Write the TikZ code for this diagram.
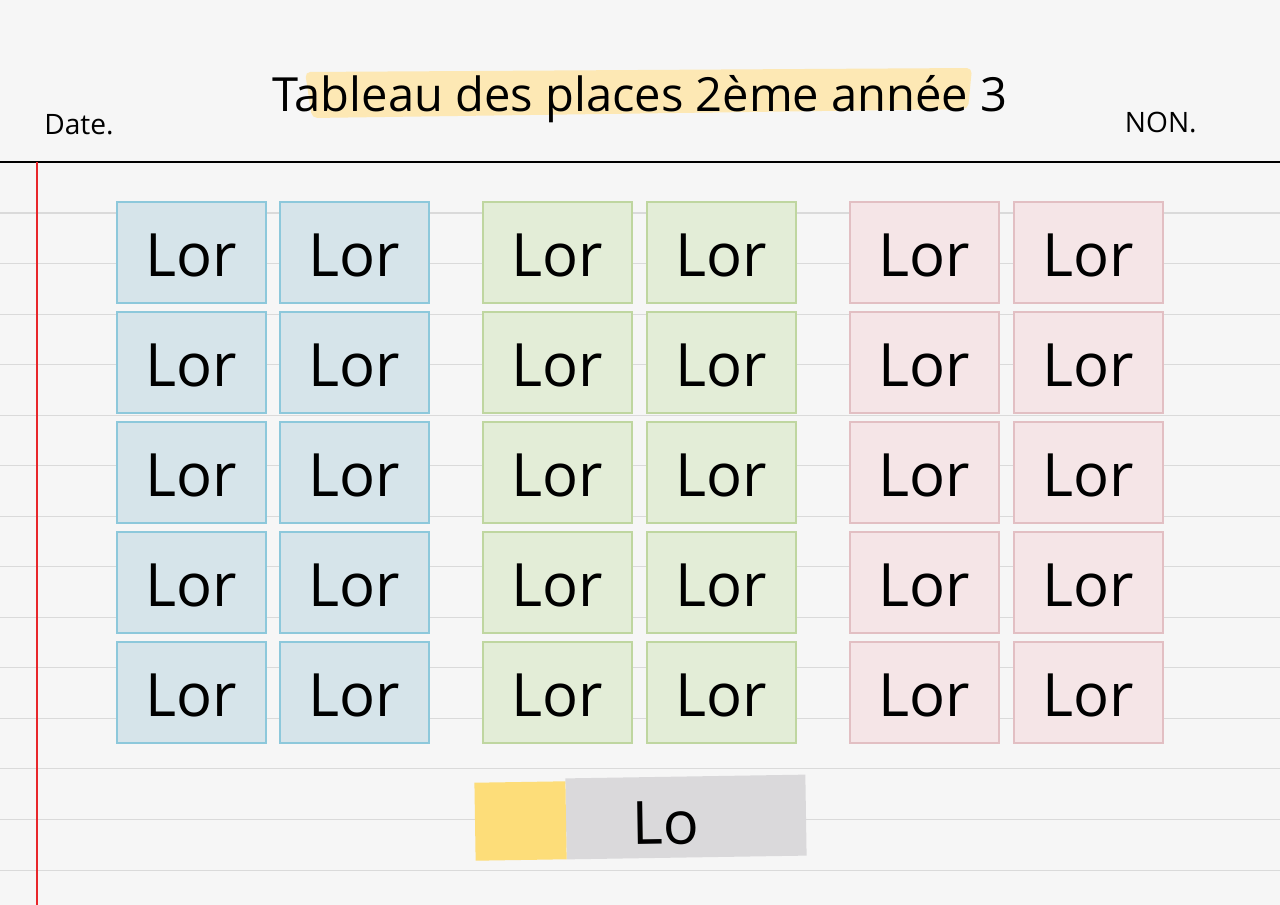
\documentclass[tikz,border=0pt]{standalone}
\usepackage{fontspec}
\setmainfont{Open Sans}
\usepackage{tikz}
\usetikzlibrary{positioning}
\definecolor{papier}{HTML}{F6F6F6}
\definecolor{ligne}{HTML}{DADADA}
\definecolor{marge}{HTML}{E8262A}
\definecolor{fondbleu}{HTML}{D6E4EA}
\definecolor{bordbleu}{HTML}{8DC8DB}
\definecolor{fondvert}{HTML}{E3EDD7}
\definecolor{bordvert}{HTML}{BFD6A0}
\definecolor{fondrose}{HTML}{F5E5E7}
\definecolor{bordrose}{HTML}{E2BFC3}
\definecolor{surligne}{HTML}{FDE8B4}
\definecolor{jaune}{HTML}{FDDD79}
\definecolor{gris}{HTML}{DAD9DB}
\tikzstyle{place}=[rectangle,line width=0.8pt,minimum width=2.98cm,minimum height=2.02cm,inner sep=0pt,text=black,text height=27.6pt,text depth=0pt,font=\fontsize{34}{40}\selectfont]
\tikzstyle{rangbleu}=[place,draw=bordbleu,fill=fondbleu]
\tikzstyle{rangvert}=[place,draw=bordvert,fill=fondvert]
\tikzstyle{rangrose}=[place,draw=bordrose,fill=fondrose]
\tikzstyle{entete}=[inner sep=0pt,font=\fontsize{16}{19}\selectfont]
\tikzstyle{etiquette}=[inner sep=0pt,rotate=0.9]

\begin{document}
\begin{tikzpicture}[x=0.02cm,y=-0.02cm]
\useasboundingbox (0,0) rectangle (1280,905);
\fill[papier] (0,0) rectangle (1280,905);
%lignesducahier
\foreach \k in {0,...,13}
  \draw[ligne,line width=0.6pt] (0,213+50.54*\k) -- (1280,213+50.54*\k);
\draw[black,line width=1.1pt] (0,162) -- (1280,162);
\draw[marge,line width=0.9pt] (37,162) -- (37,905);
%titre
\fill[surligne,rounded corners=3pt] (305,72) -- (972,68) -- (968,109) -- (312,118) -- cycle;
\node[anchor=base,inner sep=0pt,font=\fontsize{26.8}{31}\selectfont] (titre) at (640,112) {Tableau des places 2ème année 3};
\node[entete,anchor=base west] (date) at (44,135) {Date.};
\node[entete,anchor=base east] (nom) at (1197,133) {NON.};
%places
\node[rangbleu] (b11) at (191.5,252.5) {Lor};
\node[rangbleu] (b12) at (354.5,252.5) {Lor};
\node[rangbleu] (b21) at (191.5,362.5) {Lor};
\node[rangbleu] (b22) at (354.5,362.5) {Lor};
\node[rangbleu] (b31) at (191.5,472.5) {Lor};
\node[rangbleu] (b32) at (354.5,472.5) {Lor};
\node[rangbleu] (b41) at (191.5,582.5) {Lor};
\node[rangbleu] (b42) at (354.5,582.5) {Lor};
\node[rangbleu] (b51) at (191.5,692.5) {Lor};
\node[rangbleu] (b52) at (354.5,692.5) {Lor};
\node[rangvert] (v11) at (557.5,252.5) {Lor};
\node[rangvert] (v12) at (721.5,252.5) {Lor};
\node[rangvert] (v21) at (557.5,362.5) {Lor};
\node[rangvert] (v22) at (721.5,362.5) {Lor};
\node[rangvert] (v31) at (557.5,472.5) {Lor};
\node[rangvert] (v32) at (721.5,472.5) {Lor};
\node[rangvert] (v41) at (557.5,582.5) {Lor};
\node[rangvert] (v42) at (721.5,582.5) {Lor};
\node[rangvert] (v51) at (557.5,692.5) {Lor};
\node[rangvert] (v52) at (721.5,692.5) {Lor};
\node[rangrose] (r11) at (924.5,252.5) {Lor};
\node[rangrose] (r12) at (1088.5,252.5) {Lor};
\node[rangrose] (r21) at (924.5,362.5) {Lor};
\node[rangrose] (r22) at (1088.5,362.5) {Lor};
\node[rangrose] (r31) at (924.5,472.5) {Lor};
\node[rangrose] (r32) at (1088.5,472.5) {Lor};
\node[rangrose] (r41) at (924.5,582.5) {Lor};
\node[rangrose] (r42) at (1088.5,582.5) {Lor};
\node[rangrose] (r51) at (924.5,692.5) {Lor};
\node[rangrose] (r52) at (1088.5,692.5) {Lor};
%bureau
\node[etiquette,fill=gris,minimum width=4.8cm,minimum height=1.62cm] (bureau) at (686,817) {};
\node[etiquette,fill=jaune,minimum width=1.82cm,minimum height=1.56cm] (coin) at (520.5,821) {};
\node[etiquette,font=\fontsize{34}{40}\selectfont] (nomb) at (666,823) {Lo};
\end{tikzpicture}
\end{document}
